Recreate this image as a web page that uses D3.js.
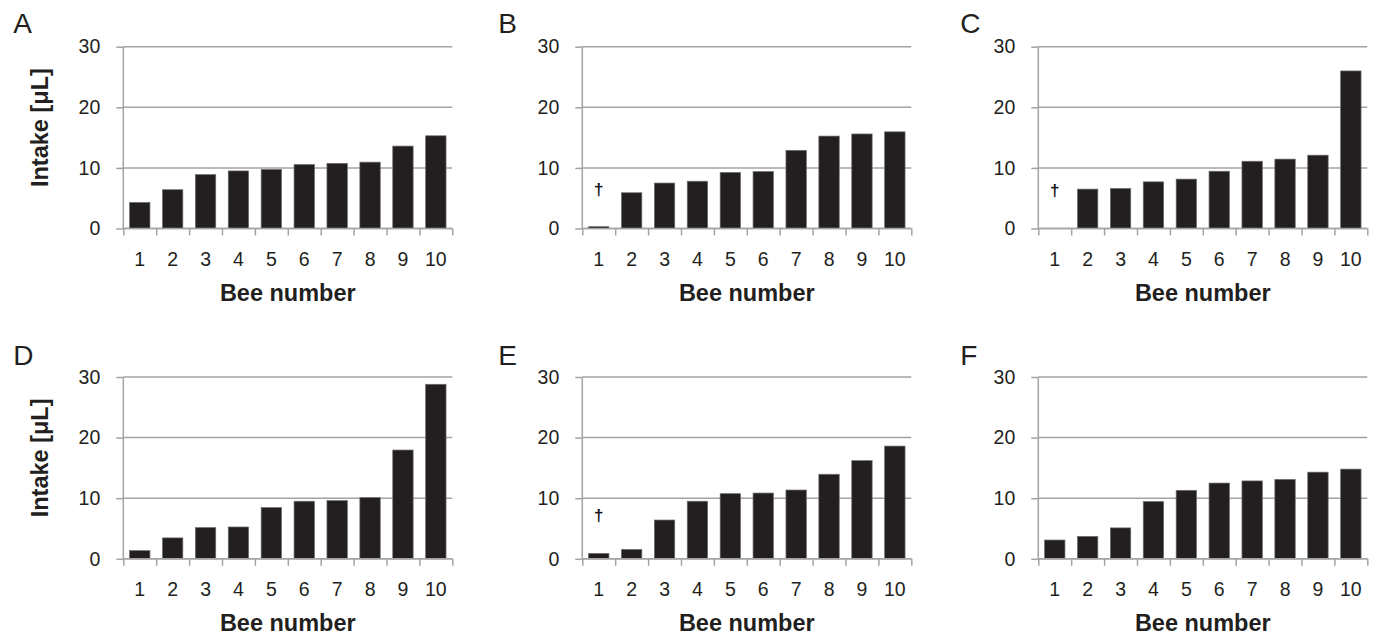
<!DOCTYPE html>
<html>
<head>
<meta charset="utf-8">
<script src="https://cdn.jsdelivr.net/npm/d3@7"></script>
<style>
  body { margin: 0; background: #fff; }
  text { font-family: "Liberation Sans", Arial, Helvetica, sans-serif; fill: #231f20; }
</style>
</head>
<body>
<div id="chart"></div>
<script>
// パネルごとのデータ（各パネル10匹のハチの摂取量 μL）
const panels = ["A", "B", "C", "D", "E", "F"];
const bees = [1, 2, 3, 4, 5, 6, 7, 8, 9, 10];
const yTicks = [0, 10, 20, 30];
const intakeA = [4.3, 6.4, 8.9, 9.5, 9.75, 10.55, 10.75, 10.95, 13.6, 15.3];
const intakeB = [0.3, 5.9, 7.5, 7.8, 9.25, 9.4, 12.9, 15.25, 15.6, 15.95];
const intakeC = [0, 6.5, 6.6, 7.7, 8.15, 9.45, 11.1, 11.45, 12.1, 26.0];
const intakeD = [1.35, 3.45, 5.15, 5.25, 8.45, 9.5, 9.6, 10.1, 17.95, 28.8];
const intakeE = [0.9, 1.55, 6.4, 9.5, 10.75, 10.85, 11.35, 13.95, 16.2, 18.6];
const intakeF = [3.1, 3.7, 5.1, 9.45, 11.3, 12.5, 12.85, 13.1, 14.3, 14.8];
const intakes = [intakeA, intakeB, intakeC, intakeD, intakeE, intakeF];
// 死亡した個体（†印）
const deadBees = [[], [1], [1], [], [1], []];

const W = 1377, H = 636;
const gridColor = "#a3a3a3";
const barColor = "#231f20";

// パネルの配置
const colX = [123.3, 582.3, 1038.3];
const rowY = [46.7, 377];
const plotW = 329, plotH = 181.8;

const svg = d3.select("#chart").append("svg")
  .attr("width", W).attr("height", H);

panels.forEach(function(name, i) {
  const col = i % 3, row = Math.floor(i / 3);
  const g = svg.append("g")
    .attr("transform", "translate(" + colX[col] + "," + rowY[row] + ")");

  const x = d3.scaleBand().domain(bees).range([0, plotW])
    .paddingInner(0.38).paddingOuter(0.19);
  const xEdge = d3.scaleLinear().domain([0, bees.length]).range([0, plotW]);
  const y = d3.scaleLinear().domain([0, 30]).range([plotH, 0]);

  // 横グリッド線
  g.append("g").selectAll("line").data(yTicks).join("line")
    .attr("x1", 0).attr("x2", plotW)
    .attr("y1", d => y(d)).attr("y2", d => y(d))
    .attr("stroke", gridColor).attr("stroke-width", 1.5);

  // 棒
  g.append("g").selectAll("rect").data(intakes[i]).join("rect")
    .attr("x", (d, j) => x(bees[j]))
    .attr("width", x.bandwidth())
    .attr("y", d => y(d))
    .attr("height", d => plotH - y(d))
    .attr("fill", barColor)
    .attr("stroke", d => d > 0 ? "#6e6e6e" : "none")
    .attr("stroke-width", 0.7);

  // †印
  g.append("g").selectAll("text").data(deadBees[i]).join("text")
    .attr("x", d => x(d) + x.bandwidth() / 2)
    .attr("y", d => y(intakes[i][d - 1]) - 32)
    .attr("text-anchor", "middle")
    .style("font-size", "17px").style("font-weight", "bold")
    .style("fill", "#111")
    .text("†");

  // y軸
  const yAxis = g.append("g")
    .call(d3.axisLeft(y).tickValues(yTicks).tickSize(7).tickPadding(16));
  yAxis.select(".domain").attr("stroke", gridColor).attr("stroke-width", 1.5)
    .attr("d", "M0," + y(30) + "V" + y(0));
  yAxis.selectAll(".tick line").attr("stroke", gridColor).attr("stroke-width", 1.5);
  yAxis.selectAll(".tick text").style("font-size", "19.5px");

  // x軸の区切り目盛り
  const xTickAxis = g.append("g")
    .attr("transform", "translate(0," + plotH + ")")
    .call(d3.axisBottom(xEdge).tickValues(d3.range(0, bees.length + 1))
      .tickSize(7).tickFormat(""));
  xTickAxis.select(".domain").attr("stroke", gridColor).attr("stroke-width", 1.5)
    .attr("d", "M0,0H" + plotW);
  xTickAxis.selectAll(".tick line").attr("stroke", gridColor).attr("stroke-width", 1.5);

  // x軸ラベル（ハチ番号）
  const xAxis = g.append("g")
    .attr("transform", "translate(0," + plotH + ")")
    .call(d3.axisBottom(x).tickSize(0).tickPadding(23.5));
  xAxis.select(".domain").remove();
  xAxis.selectAll(".tick text").style("font-size", "19.5px");

  // x軸タイトル
  g.append("text")
    .attr("x", plotW / 2).attr("y", plotH + 72.4)
    .attr("text-anchor", "middle")
    .style("font-size", "23.5px").style("font-weight", "bold")
    .text("Bee number");

  // y軸タイトル（左列のみ）
  if (col === 0) {
    g.append("text")
      .attr("transform", "translate(-75," + (plotH / 2 - 10) + ") rotate(-90)")
      .attr("text-anchor", "middle")
      .style("font-size", "23.5px").style("font-weight", "bold")
      .text("Intake [μL]");
  }

  // パネル記号
  g.append("text")
    .attr("x", [-110, -84, -78][col])
    .attr("y", [-13.5, -12][row])
    .style("font-size", "28px")
    .text(name);
});
</script>
</body>
</html>
